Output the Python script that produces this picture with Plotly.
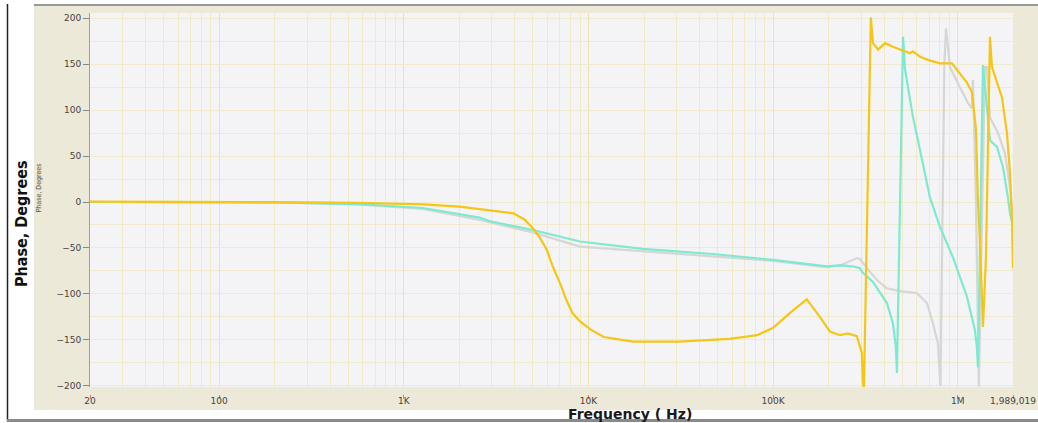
import plotly.graph_objects as go

# ---------------- data ----------------
freq_yellow = [20, 36, 100, 300, 560, 1270, 2000, 2580, 3070, 3920, 4500, 4820, 5100, 5460,
               5950, 6400, 7000, 7600, 8200, 9000, 10300, 12100, 14900, 17400, 31000, 58000,
               82000, 100000, 123000, 152000, 179000, 203000, 230000, 254000, 284000, 302000,
               306000, 310000, 338000, 347000, 370000, 403000, 445000, 498000, 550000, 571000,
               624000, 706000, 800000, 929000, 1026000, 1120000, 1190000, 1253000, 1285000,
               1318000, 1368000, 1420000, 1456000, 1493000, 1530000, 1733000, 1845000,
               1915000, 1964000, 1989019]
phase_yellow = [0.5, 0.5, 0, -0.3, -0.8, -2.5, -5, -8, -9.4, -12.3, -19, -25, -30.5, -39,
                -52, -70, -88, -107, -121, -130, -139, -147, -150, -152, -152, -149,
                -145, -137, -121, -106, -125, -141, -145, -143, -146, -164,
                -194, -205, 201, 173, 166, 173, 169, 165, 162, 164,
                158, 154, 151, 151, 140, 130, 120, 80, 0,
                -45, -136, -60, 60, 180, 147, 114, 75,
                32, -20, -72]

freq_cyan = [20, 200, 560, 1270, 2580, 2930, 5000, 9000, 19700, 47000, 100000, 195000,
             230000, 270000, 295000, 306000, 347000, 378000, 413000, 445000, 462000, 468000,
             505000, 518000, 571000, 640000, 706000, 800000, 940000, 1120000, 1236000,
             1268000, 1285000, 1368000, 1493000, 1630000, 1755000, 1867000, 1915000, 1989019]
phase_cyan = [0, -0.5, -2.2, -6.5, -17, -21, -30.5, -43, -51, -56.6, -63, -70,
              -69, -70, -72, -77, -87, -98, -110, -132, -158, -186,
              180, 144, 93, 46, 5, -27, -60, -103, -139,
              -158, -180, 149, 67, 60, 38, 5, -12, -27]

freq_gray = [20, 200, 560, 1270, 2580, 5000, 9000, 19700, 47000, 100000, 195000, 230000,
             284000, 295000, 322000, 365000, 413000, 486000, 600000, 680000, 733000, 780000,
             805000, 845000, 863000, 906000, 1026000, 1135000, 1190000, 1207000, 1253000,
             1300000, 1400000, 1436000, 1493000, 1650000, 1800000, 1915000, 1989019]
phase_gray = [0, -0.5, -2.5, -7.5, -19.6, -33, -48.6, -53.5, -58.8, -64, -71, -69,
              -61, -62, -72, -85, -94, -97, -99, -110, -132, -154,
              -200, 150, 189, 147, 125, 108, 102, 133, 0,
              -201, 147, 147, 92, 75, 53, 16, -15]

x_tick_vals = [20, 100, 1000, 10000, 100000, 1000000, 1989019]
x_tick_text = ["20", "100", "1K", "10K", "100K", "1M", "1,989,019"]
y_tick_vals = [-200, -150, -100, -50, 0, 50, 100, 150, 200]

# ---------------- figure ----------------
W, H = 1038, 423
ML, MR, MT, MB = 90, 25, 13, 29
PW, PH = W - ML - MR, H - MT - MB
beige = "#ECE9D8"


def px(xp):
    return (xp - ML) / PW


def py(yp):
    return (H - MB - yp) / PH


fig = go.Figure()
fig.add_trace(go.Scatter(x=freq_gray, y=phase_gray, mode="lines",
                         line=dict(color="#D6D6D6", width=2.2), name="gray"))
fig.add_trace(go.Scatter(x=freq_cyan, y=phase_cyan, mode="lines",
                         line=dict(color="#7FE9D0", width=2.2), name="cyan"))
fig.add_trace(go.Scatter(x=freq_yellow, y=phase_yellow, mode="lines",
                         line=dict(color="#F5C616", width=2.2), name="yellow"))

minor_x = [m * 10 ** k for k in range(1, 7) for m in range(2, 10)
           if 20 < m * 10 ** k < 1989019]

shapes = [
    dict(type="rect", xref="paper", yref="paper", x0=px(0), x1=px(34), y0=py(H), y1=py(0),
         fillcolor="white", line=dict(width=0), layer="below"),
    dict(type="rect", xref="paper", yref="paper", x0=px(0), x1=px(W), y0=py(6), y1=py(0),
         fillcolor="white", line=dict(width=0), layer="below"),
    dict(type="rect", xref="paper", yref="paper", x0=px(0), x1=px(W), y0=py(H), y1=py(410),
         fillcolor="white", line=dict(width=0), layer="below"),
    dict(type="line", xref="paper", yref="paper", x0=px(7.5), x1=px(7.5), y0=py(421), y1=py(4),
         line=dict(color="#222222", width=1.5)),
    dict(type="line", xref="paper", yref="paper", x0=px(34), x1=px(W), y0=py(5), y1=py(5),
         line=dict(color="#777777", width=1.5)),
    dict(type="line", xref="paper", yref="paper", x0=px(7), x1=px(W), y0=py(420.5), y1=py(420.5),
         line=dict(color="#8A8A8A", width=3)),
]

annotations = [
    dict(text="<b>Phase, Degrees</b>", xref="paper", yref="paper", x=px(21), y=py(224),
         textangle=-90, showarrow=False, xanchor="center", yanchor="middle",
         font=dict(family="Liberation Sans Narrow, DejaVu Sans Condensed, sans-serif",
                   size=16, color="#111111")),
    dict(text="Phase, Degrees", xref="paper", yref="paper", x=px(38.5), y=py(188),
         textangle=-90, showarrow=False, xanchor="center", yanchor="middle",
         font=dict(family="Liberation Sans Narrow, DejaVu Sans Condensed, sans-serif",
                   size=7, color="#555555")),
    dict(text="<b>Frequency ( Hz)</b>", xref="paper", yref="paper", x=px(630), y=py(414),
         showarrow=False, xanchor="center", yanchor="middle",
         font=dict(family="DejaVu Sans, sans-serif", size=14, color="#1A1A1A")),
]

fig.update_layout(
    width=W, height=H, autosize=False,
    margin=dict(l=ML, r=MR, t=MT, b=MB, pad=0, autoexpand=False),
    paper_bgcolor=beige,
    plot_bgcolor="#F4F4F6",
    showlegend=False,
    shapes=shapes,
    annotations=annotations,
    xaxis=dict(
        type="log", range=[1.30103, 6.29864], anchor="free", position=0,
        automargin=False,
        tickvals=x_tick_vals, ticktext=x_tick_text,
        ticks="outside", ticklen=4, tickcolor="#E07A5A", tickwidth=1,
        tickfont=dict(family="DejaVu Sans, sans-serif", size=9, color="#444444"),
        showgrid=True, gridcolor="#EFE4A8", gridwidth=1,
        minor=dict(tickvals=minor_x, showgrid=True, gridcolor="#F1EAC4", ticklen=0),
        showline=False, zeroline=False, ticklabelstandoff=-6,
        ticklabeloverflow="allow",
    ),
    yaxis=dict(
        range=[-201.4, 205.8], domain=[7 / PH, 1], automargin=False,
        tickvals=y_tick_vals, ticks="outside", ticklen=6, tickcolor="#888888",
        tickfont=dict(family="DejaVu Sans, sans-serif", size=9, color="#444444"),
        showgrid=True, gridcolor="#F0EBCF", gridwidth=1,
        minor=dict(dtick=25, showgrid=True, gridcolor="#F0EBCF", ticklen=0),
        showline=True, linecolor="#A0A0A0", linewidth=1,
        zeroline=False,
    ),
)

fig.write_html("out.html")
